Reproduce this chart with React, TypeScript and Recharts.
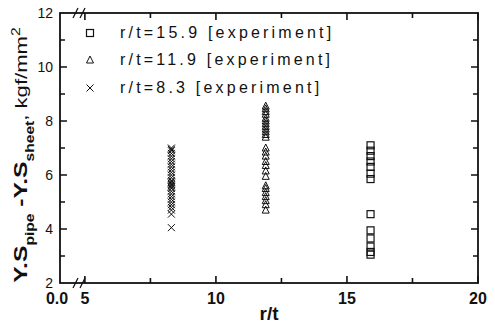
import { ScatterChart, Scatter, XAxis, YAxis } from 'recharts';

const FONT = '"Liberation Sans", Arial, sans-serif';

// series labels and their r/t positions
const seriesNames = ['r/t=15.9 [experiment]', 'r/t=11.9 [experiment]', 'r/t=8.3 [experiment]'];
const rtValues = [15.9, 11.9, 8.3];

// Y.S pipe - Y.S sheet (kgf/mm2)
const ys159 = [3.05, 3.15, 3.35, 3.65, 3.95, 4.55, 5.85, 6.05, 6.3, 6.5, 6.7, 6.9, 7.1];
const ys119 = [
  4.7, 4.9, 5.05, 5.2, 5.35, 5.5, 5.6,
  5.95, 6.15, 6.35, 6.5, 6.7, 6.85, 7.0,
  7.4, 7.5, 7.6, 7.7, 7.8, 7.9, 8.0, 8.1, 8.25, 8.35, 8.45, 8.55,
];
const ys83 = [
  4.05, 4.55, 4.7, 4.8, 4.9, 5.0, 5.1, 5.2, 5.3, 5.4, 5.5, 5.55, 5.6, 5.65,
  5.7, 5.75, 5.8, 5.9, 6.0, 6.1, 6.2, 6.3, 6.4, 6.5, 6.6, 6.7, 6.8, 6.9, 6.95, 7.0,
];

const xDomain = [4.05, 20];
const xTicks = [4.05, 5, 7.5, 10, 12.5, 15, 17.5, 20];
const xMajor = [5, 10, 15, 20];
const yDomain = [2, 12];
const yTicks = [2, 3, 4, 5, 6, 7, 8, 9, 10, 11, 12];
const yMajor = [2, 4, 6, 8, 10, 12];

const toPoints = (x: number, ys: number[]) => ys.map(y => ({ x, y }));
const data159 = toPoints(rtValues[0], ys159);
const data119 = toPoints(rtValues[1], ys119);
const data83 = toPoints(rtValues[2], ys83);

// chart geometry
const W = 495;
const H = 329;
const M = { top: 13, right: 17, bottom: 0, left: 0 };
const X_AXIS_H = 46;
const Y_AXIS_W = 60;
const PLOT_X = M.left + Y_AXIS_W;
const PLOT_Y = M.top;
const PLOT_W = W - M.left - M.right - Y_AXIS_W;
const PLOT_H = H - M.top - M.bottom - X_AXIS_H;

const S = 3.5;

function Square({ cx, cy }: any) {
  return <rect x={cx - S} y={cy - S} width={S * 2} height={S * 2} fill="none" stroke="#111" strokeWidth={1.2} />;
}
function Triangle({ cx, cy }: any) {
  return (
    <polygon
      points={`${cx},${cy - S - 0.5} ${cx - S},${cy + S - 0.5} ${cx + S},${cy + S - 0.5}`}
      fill="none"
      stroke="#111"
      strokeWidth={1}
    />
  );
}
function Cross({ cx, cy }: any) {
  return (
    <g stroke="#111" strokeWidth={1}>
      <line x1={cx - S} y1={cy - S} x2={cx + S} y2={cy + S} />
      <line x1={cx - S} y1={cy + S} x2={cx + S} y2={cy - S} />
    </g>
  );
}
const symbols = [Square, Triangle, Cross];

function Slashes({ x, y }: { x: number; y: number }) {
  return (
    <g stroke="#111" strokeWidth={1.3}>
      <line x1={x + 13} y1={y + 5} x2={x + 18} y2={y - 5} />
      <line x1={x + 20} y1={y + 5} x2={x + 25} y2={y - 5} />
    </g>
  );
}

// inward tick marks on all four frame edges, as one path
function tickPath(x0: number, yb: number) {
  const yt = yb - PLOT_H;
  const xr = x0 + PLOT_W;
  let d = '';
  xTicks.slice(1).forEach(v => {
    const px = x0 + ((v - xDomain[0]) / (xDomain[1] - xDomain[0])) * PLOT_W;
    const len = xMajor.includes(v) ? 7 : 5;
    d += `M${px} ${yb} L${px} ${yb - len} M${px} ${yt} L${px} ${yt + len} `;
  });
  yTicks.slice(1, -1).forEach(v => {
    const py = yb - ((v - yDomain[0]) / (yDomain[1] - yDomain[0])) * PLOT_H;
    const len = yMajor.includes(v) ? 7 : 5;
    d += `M${x0} ${py} L${x0 + len} ${py} M${xr} ${py} L${xr - len} ${py} `;
  });
  return d;
}

// frame, tick marks and axis-break marks, drawn on top of the chart
function Frame() {
  const yb = PLOT_Y + PLOT_H;
  return (
    <svg
      width={W}
      height={H}
      style={{ position: 'absolute', left: 0, top: 0, pointerEvents: 'none', overflow: 'visible' }}
    >
      <rect x={PLOT_X} y={PLOT_Y} width={PLOT_W} height={PLOT_H} fill="none" stroke="#111" strokeWidth={1.8} />
      <path d={tickPath(PLOT_X, yb)} fill="none" stroke="#111" strokeWidth={1.6} />
      <Slashes x={PLOT_X} y={yb} />
      <Slashes x={PLOT_X} y={PLOT_Y} />
    </svg>
  );
}

function XTick(props: any) {
  const { x, y, payload } = props;
  const v = payload.value;
  const first = v === xDomain[0];
  if (!first && !xMajor.includes(v)) return <g />;
  return (
    <text
      x={first ? x - 3 : x}
      y={y + 21}
      textAnchor="middle"
      fontFamily={FONT}
      fontWeight="bold"
      fontSize={16}
      fill="#111"
    >
      {first ? '0.0' : String(v)}
    </text>
  );
}

function YTick(props: any) {
  const { x, y, payload } = props;
  const v = payload.value;
  if (!yMajor.includes(v)) return <g />;
  return (
    <text x={x - 7} y={y + 5} textAnchor="end" fontFamily={FONT} fontSize={14} fill="#111">
      {String(v)}
    </text>
  );
}

function YLabel({ viewBox }: any) {
  const bx = viewBox.x + 27;
  const cy = viewBox.y + viewBox.height / 2 + 7;
  return (
    <text
      transform={`translate(${bx}, ${cy}) rotate(-90) scale(1.3, 1)`}
      textAnchor="middle"
      fontFamily={FONT}
      fill="#111"
    >
      <tspan fontWeight="bold" fontSize={19}>Y.S</tspan>
      <tspan fontWeight="bold" fontSize={12} dy={7}>pipe</tspan>
      <tspan fontWeight="bold" fontSize={19} dy={-7}> -Y.S</tspan>
      <tspan fontWeight="bold" fontSize={12} dy={7}>sheet</tspan>
      <tspan fontSize={17} dy={-7}>, kgf/mm</tspan>
      <tspan fontSize={12} dy={-7}>2</tspan>
    </text>
  );
}

function XLabel({ viewBox }: any) {
  return (
    <text
      x={viewBox.x + viewBox.width / 2}
      y={viewBox.y + 37}
      textAnchor="middle"
      fontFamily={FONT}
      fontWeight="bold"
      fontSize={19}
      fill="#111"
    >
      r/t
    </text>
  );
}

function LegendBox() {
  return (
    <div style={{ position: 'absolute', left: 83, top: 19, fontFamily: FONT }}>
      {seriesNames.map((name, i) => {
        const Sym = symbols[i];
        return (
          <div key={name} style={{ display: 'flex', alignItems: 'center', height: 27.5 }}>
            <svg width={14} height={14} style={{ marginRight: 23 }}>
              <Sym cx={7} cy={7} />
            </svg>
            <span style={{ fontSize: 16, letterSpacing: 3.2, color: '#111', whiteSpace: 'nowrap' }}>{name}</span>
          </div>
        );
      })}
    </div>
  );
}

export default function App() {
  return (
    <div style={{ position: 'absolute', left: 0, top: 0, width: W, height: H, background: '#fff' }}>
      <ScatterChart width={W} height={H} margin={M}>
        <XAxis
          type="number"
          dataKey="x"
          domain={xDomain}
          ticks={xTicks}
          interval={0}
          height={X_AXIS_H}
          tickSize={0}
          tickMargin={0}
          tickLine={false}
          axisLine={false}
          allowDataOverflow
          tick={<XTick />}
          label={{ content: XLabel }}
        />
        <YAxis
          type="number"
          dataKey="y"
          domain={yDomain}
          ticks={yTicks}
          interval={0}
          width={Y_AXIS_W}
          tickSize={0}
          tickMargin={0}
          tickLine={false}
          axisLine={false}
          allowDataOverflow
          tick={<YTick />}
          label={{ content: YLabel }}
        />
        <Scatter
          name={seriesNames[0]}
          data={data159}
          shape={(p: any) => <Square cx={p.cx} cy={p.cy} />}
          isAnimationActive={false}
        />
        <Scatter
          name={seriesNames[1]}
          data={data119}
          shape={(p: any) => <Triangle cx={p.cx} cy={p.cy} />}
          isAnimationActive={false}
        />
        <Scatter
          name={seriesNames[2]}
          data={data83}
          shape={(p: any) => <Cross cx={p.cx} cy={p.cy} />}
          isAnimationActive={false}
        />
      </ScatterChart>
      <Frame />
      <LegendBox />
    </div>
  );
}
